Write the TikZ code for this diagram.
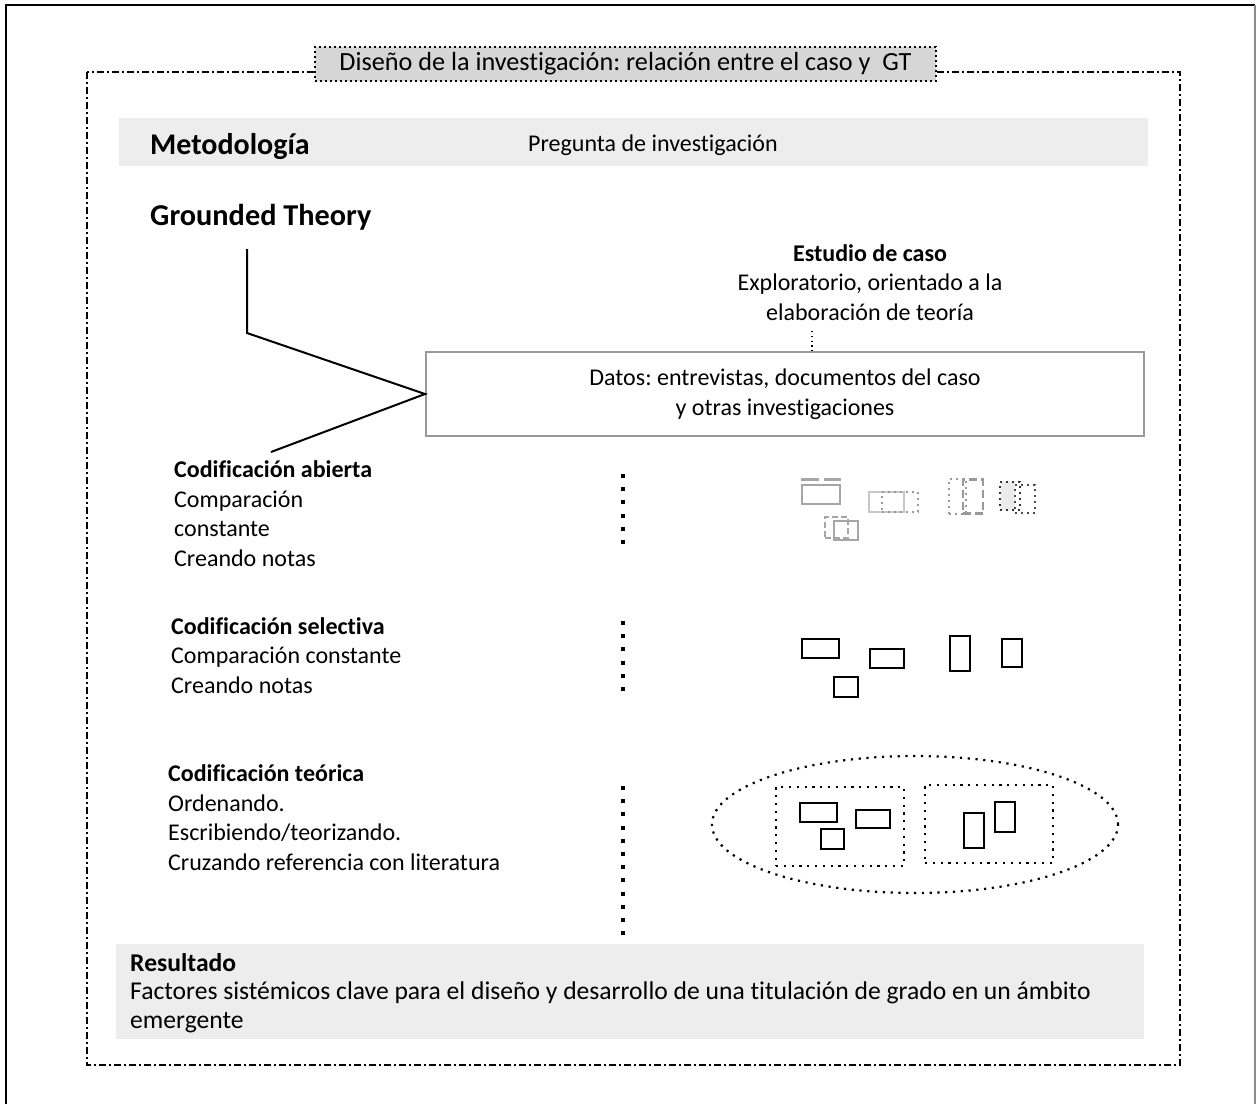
\documentclass[tikz,border=0pt]{standalone}
\usepackage{fontspec}
\setmainfont{Carlito}[Ligatures=CommonOff]
\usetikzlibrary{shapes.geometric}

\newcommand{\txt}{\fontsize{24}{29.5}\selectfont\frenchspacing}

\begin{document}
\begin{tikzpicture}[x=1pt,y=-1pt,
    every node/.style={inner sep=0pt},
    band/.style={fill=black!7},
    lbl/.style={anchor=base west,align=left,font=\txt},
    dashdot/.style={line width=1.8pt,dash pattern=on 7pt off 3pt on 2pt off 3pt},
    titlebox/.style={draw,fill=black!16,line width=1.6pt,dash pattern=on 1.6pt off 3.4pt,font=\fontsize{26.2}{30}\selectfont\frenchspacing},
    puntos/.style={draw,line width=2.2pt,dash pattern=on 2.2pt off 5.6pt},
    colpuntos/.style={line width=4pt,dash pattern=on 4pt off 9.2pt},
    caja/.style={draw,line width=2.4pt},
    gris/.style={draw=black!35,line width=2.4pt}]
    \useasboundingbox (0,0) rectangle (1256,1104);
    % marco
    \draw[line width=2pt] (6,1104)--(6,5)--(1255,5);
    \draw[black!45,line width=1.2pt] (1255,5)--(1255,1104);
    \draw[dashdot] (87,72) rectangle (1180,1065);
    \node(titulo)at(625.5,64)[titlebox,minimum width=621,minimum height=34]{Diseño de la investigación: relación entre el caso y\ \ GT};
    % metodologia
    \fill[band] (119,118) rectangle (1148,166);
    \node(metodologia)at(150,154)[anchor=base west,font=\fontsize{30}{34}\selectfont\bfseries]{Metodología};
    \node(pregunta)at(528,151)[anchor=base west,font=\txt]{Pregunta de investigación};
    \node(gt)at(150,225)[anchor=base west,font=\fontsize{30.3}{34}\selectfont\bfseries]{Grounded Theory};
    \node(caso)at(870,320)[anchor=base,align=center,font=\txt]{\textbf{Estudio de caso}\\Exploratorio, orientado a la\\elaboración de teoría};
    \node(datos)at(785,394)[draw=black!40,line width=2pt,minimum width=718,minimum height=84,align=center,font=\txt]{Datos: entrevistas, documentos del caso\\y otras investigaciones};
    \coordinate(casopie)at(812,331);
    \draw[line width=1.4pt,dash pattern=on 1.4pt off 3.4pt](casopie)--(casopie|-datos.north);
    \coordinate(gtpie)at(247,249);
    \coordinate(gtcodo)at(247,333);
    \coordinate(abiertapunta)at(271,452);
    \draw[line width=2pt](gtpie)--(gtcodo)--(datos.west)--(abiertapunta);
    % codificacion
    \node(abierta)at(174,566)[lbl]{\textbf{Codificación abierta}\\Comparación\\constante\\Creando notas};
    \node(selectiva)at(171,693)[lbl]{\textbf{Codificación selectiva}\\Comparación constante\\Creando notas};
    \node(teorica)at(168,870)[lbl]{\textbf{Codificación teórica}\\Ordenando.\\Escribiendo/teorizando.\\Cruzando referencia con literatura};
    \coordinate(col1a)at(623,474);
    \coordinate(col1b)at(623,546);
    \coordinate(col2a)at(623,621);
    \coordinate(col2b)at(623,691);
    \coordinate(col3a)at(623,786);
    \coordinate(col3b)at(623,950);
    \draw[colpuntos](col1a)--(col1b);
    \draw[colpuntos](col2a)--(col2b);
    \draw[colpuntos](col3a)--(col3b);
    % abierta
    \node(ab1)at(821,494.5)[gris,minimum width=38,minimum height=19]{};
    \draw[black!35,line width=3pt,dash pattern=on 18pt off 5pt]([yshift=4pt]ab1.north west)--([yshift=4pt]ab1.north east);
    \node(ab2)at(886.5,502)[draw=black!22,line width=1.8pt,minimum width=35,minimum height=20]{};
    \node(ab2b)at(900,502)[draw=black!40,line width=2pt,dash pattern=on 2pt off 4pt,minimum width=36,minimum height=20]{};
    \node(ab3)at(836.5,527.5)[draw=black!35,line width=2pt,dash pattern=on 6pt off 3pt,minimum width=23,minimum height=21]{};
    \node(ab3b)at(846,530.5)[gris,line width=2pt,minimum width=24,minimum height=19]{};
    \node(ab4)at(957,496)[draw=black!40,line width=2pt,dash pattern=on 2pt off 4pt,minimum width=17,minimum height=35]{};
    \node(ab4b)at(973,496.5)[draw=black!40,line width=2.4pt,dash pattern=on 8pt off 4pt,minimum width=20,minimum height=34]{};
    \node(ab5)at(1008,496)[fill=black!8,minimum width=14,minimum height=28]{};
    \node(ab5b)at(1010,496)[draw=black!80,line width=2pt,dash pattern=on 2pt off 4pt,minimum width=20,minimum height=28]{};
    \node(ab5c)at(1025,499)[draw=black!70,line width=2pt,dash pattern=on 2pt off 4pt,minimum width=20,minimum height=28]{};
    % selectiva
    \node(sel1)at(820.5,648.5)[caja,minimum width=37,minimum height=19]{};
    \node(sel2)at(887,658.5)[caja,minimum width=34,minimum height=19]{};
    \node(sel3)at(846,687)[caja,minimum width=24,minimum height=20]{};
    \node(sel4)at(960,653.5)[caja,minimum width=20,minimum height=35]{};
    \node(sel5)at(1012,653)[caja,minimum width=20,minimum height=28]{};
    % teorica
    \node(grupo)at(915,824.5)[puntos,ellipse,minimum width=406,minimum height=137]{};
    \node(grupoa)at(840,826.5)[puntos,minimum width=128,minimum height=79]{};
    \node(grupob)at(989,824)[puntos,minimum width=128,minimum height=78]{};
    \node(teo1)at(818.5,812.5)[caja,minimum width=37,minimum height=19]{};
    \node(teo2)at(873,819)[caja,minimum width=34,minimum height=18]{};
    \node(teo3)at(832.5,839)[caja,minimum width=23,minimum height=20]{};
    \node(teo4)at(974,830.5)[caja,minimum width=20,minimum height=35]{};
    \node(teo5)at(1005,817)[caja,minimum width=20,minimum height=30]{};
    % resultado
    \fill[band] (116,944) rectangle (1144,1039);
    \node(resultado)at(130,1028)[lbl,font=\fontsize{25.6}{28.5}\selectfont]{\textbf{Resultado}\\Factores sistémicos clave para el diseño y desarrollo de una titulación de grado en un ámbito\\emergente};
\end{tikzpicture}
\end{document}
